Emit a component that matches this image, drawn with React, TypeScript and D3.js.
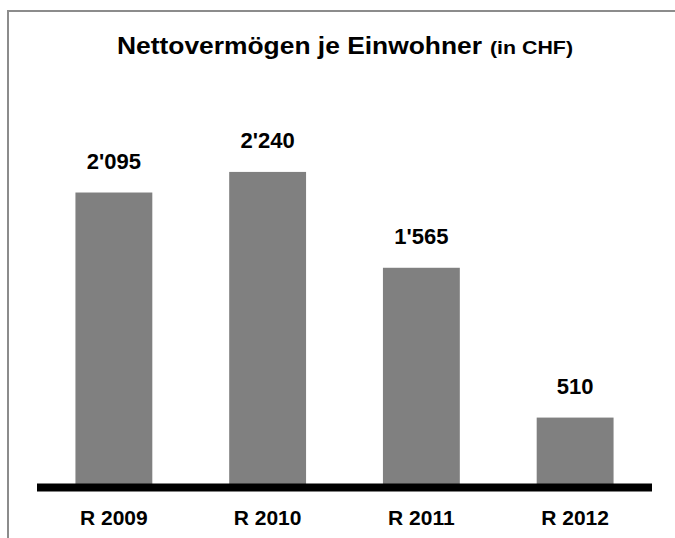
import { useMemo } from 'react';
import * as d3 from 'd3';

// values
const categories = ['R 2009', 'R 2010', 'R 2011', 'R 2012'];
const values = [2095, 2240, 1565, 510];
const valueLabels = ["2'095", "2'240", "1'565", '510'];

const W = 675;
const H = 538;
const FONT = 'Arial, "Liberation Sans", Helvetica, sans-serif';

const App = () => {
  const x = useMemo(
    () => d3.scaleBand<string>().domain(categories).range([37, 652]).paddingInner(0.5).paddingOuter(0.25),
    []
  );
  const y = useMemo(() => d3.scaleLinear().domain([0, 2500]).range([490, 135]), []);

  return (
    <div style={{ position: 'fixed', left: 0, top: 0, background: '#fff' }}>
      <svg width={W} height={H} style={{ display: 'block', fontFamily: FONT }}>
        <rect x={0} y={0} width={W} height={H} fill="#fff" />
        {/* outer frame, only left and top edges are inside the picture */}
        <path d={`M8,${H + 5}V11H${W + 5}`} fill="none" stroke="#8c8c8c" strokeWidth={2} />

        {/* title */}
        <text x={117} y={54} fontSize={23.5} fontWeight="bold" fill="#000" textLength={365} lengthAdjust="spacingAndGlyphs">
          Nettovermögen je Einwohner
        </text>
        <text x={490} y={54} fontSize={18} fontWeight="bold" fill="#000" textLength={83} lengthAdjust="spacingAndGlyphs">
          (in CHF)
        </text>

        {/* bars */}
        {categories.map((c, i) => (
          <rect
            key={c}
            x={x(c)}
            y={y(values[i])}
            width={x.bandwidth()}
            height={y(0) - y(values[i])}
            fill="#808080"
          />
        ))}

        {/* value labels */}
        {categories.map((c, i) => (
          <text
            key={c + '-v'}
            x={(x(c) ?? 0) + x.bandwidth() / 2}
            y={y(values[i]) - 24}
            textAnchor="middle"
            fontSize={22}
            fontWeight="bold"
            fill="#000"
          >
            {valueLabels[i]}
          </text>
        ))}

        {/* thick baseline */}
        <rect x={37} y={483.5} width={615} height={8} fill="#000" />

        {/* category labels */}
        {categories.map((c) => (
          <text
            key={c + '-c'}
            x={(x(c) ?? 0) + x.bandwidth() / 2}
            y={525}
            textAnchor="middle"
            fontSize={21}
            fontWeight="bold"
            fill="#000"
          >
            {c}
          </text>
        ))}
      </svg>
    </div>
  );
};

export default App;
